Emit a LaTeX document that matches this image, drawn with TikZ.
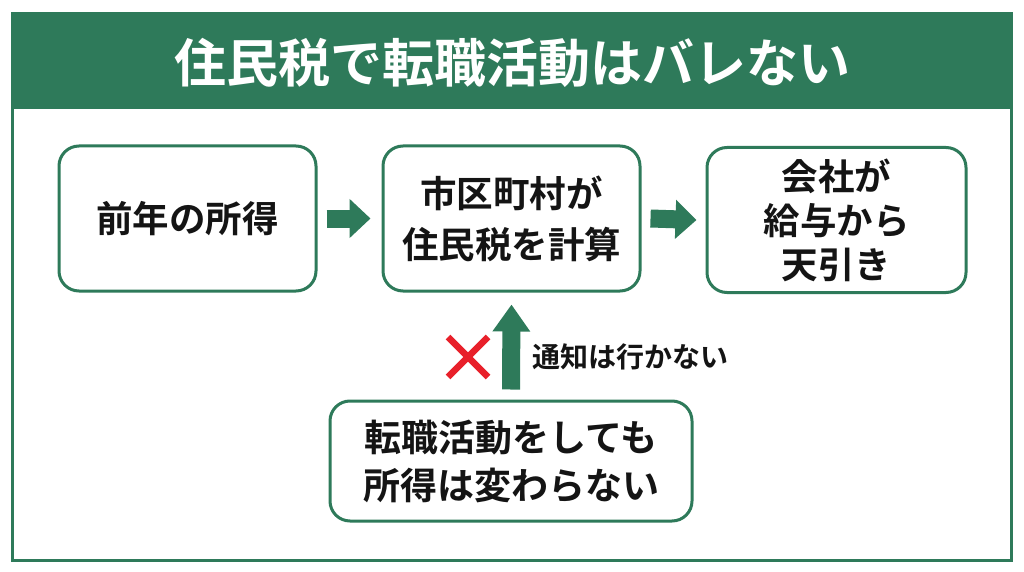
\documentclass[tikz,border=0pt]{standalone}
\usepackage{fontspec}
\setmainfont{Noto Sans CJK JP}[BoldFont={Noto Sans CJK JP Bold}]
\usetikzlibrary{arrows.meta}
\definecolor{hgreen}{RGB}{46,122,90}
\definecolor{xred}{RGB}{232,32,42}
\definecolor{ink}{RGB}{20,20,20}
\begin{document}
\begin{tikzpicture}[x=1pt,y=-1pt,
  box/.style={draw=hgreen, line width=3pt, rounded corners=20pt, fill=white, align=center, text=ink, font=\bfseries\fontsize{36.5}{51}\selectfont, inner sep=0pt},
  flow/.style={draw=hgreen, line width=18pt, -{Triangle[width=38pt,length=21pt]}},
  lbl/.style={text=ink, font=\bfseries\fontsize{28}{32}\selectfont}
]
\useasboundingbox (0,0) rectangle (1024,572);
\fill[white] (0,0) rectangle (1024,572);
\fill[hgreen] (12,14) rectangle (1011,109);
\draw[hgreen, line width=3pt] (12,14) rectangle (1011,560);
\node[text=white, font=\bfseries\fontsize{52}{60}\selectfont] (title) at (512,63) {住民税で転職活動はバレない};

\node[box, minimum width=257pt, minimum height=145pt] (b1) at (187.5,218.5) {前年の所得};
\node[box, minimum width=257pt, minimum height=145pt] (b2) at (511.5,218.5) {市区町村が\\住民税を計算};
\node[box, minimum width=259pt, minimum height=145pt, font=\bfseries\fontsize{36.5}{44}\selectfont] (b3) at (836.5,220) {会社が\\給与から\\天引き};
\node[box, minimum width=362pt, minimum height=120pt, font=\bfseries\fontsize{37}{48}\selectfont] (b4) at (511,461) {転職活動をしても\\所得は変わらない};

\draw[flow] ([xshift=9pt]b1.east) -- ([xshift=-11pt]b2.west);
\draw[flow] ([xshift=9pt]b2.east) -- ([xshift=-9pt]b3.west);
\draw[flow, -{Triangle[width=36pt,length=27pt]}] ([yshift=10pt]b4.north) -- ([yshift=-12pt]b2.south);

\coordinate (xc) at (468,357);
\draw[xred, line width=6.5pt] ([xshift=-20pt,yshift=20pt]xc) -- ([xshift=20pt,yshift=-20pt]xc);
\draw[xred, line width=6.5pt] ([xshift=-20pt,yshift=-20pt]xc) -- ([xshift=20pt,yshift=20pt]xc);

\node[lbl, anchor=west, inner sep=0pt] (note) at (532,357) {通知は行かない};
\end{tikzpicture}
\end{document}
